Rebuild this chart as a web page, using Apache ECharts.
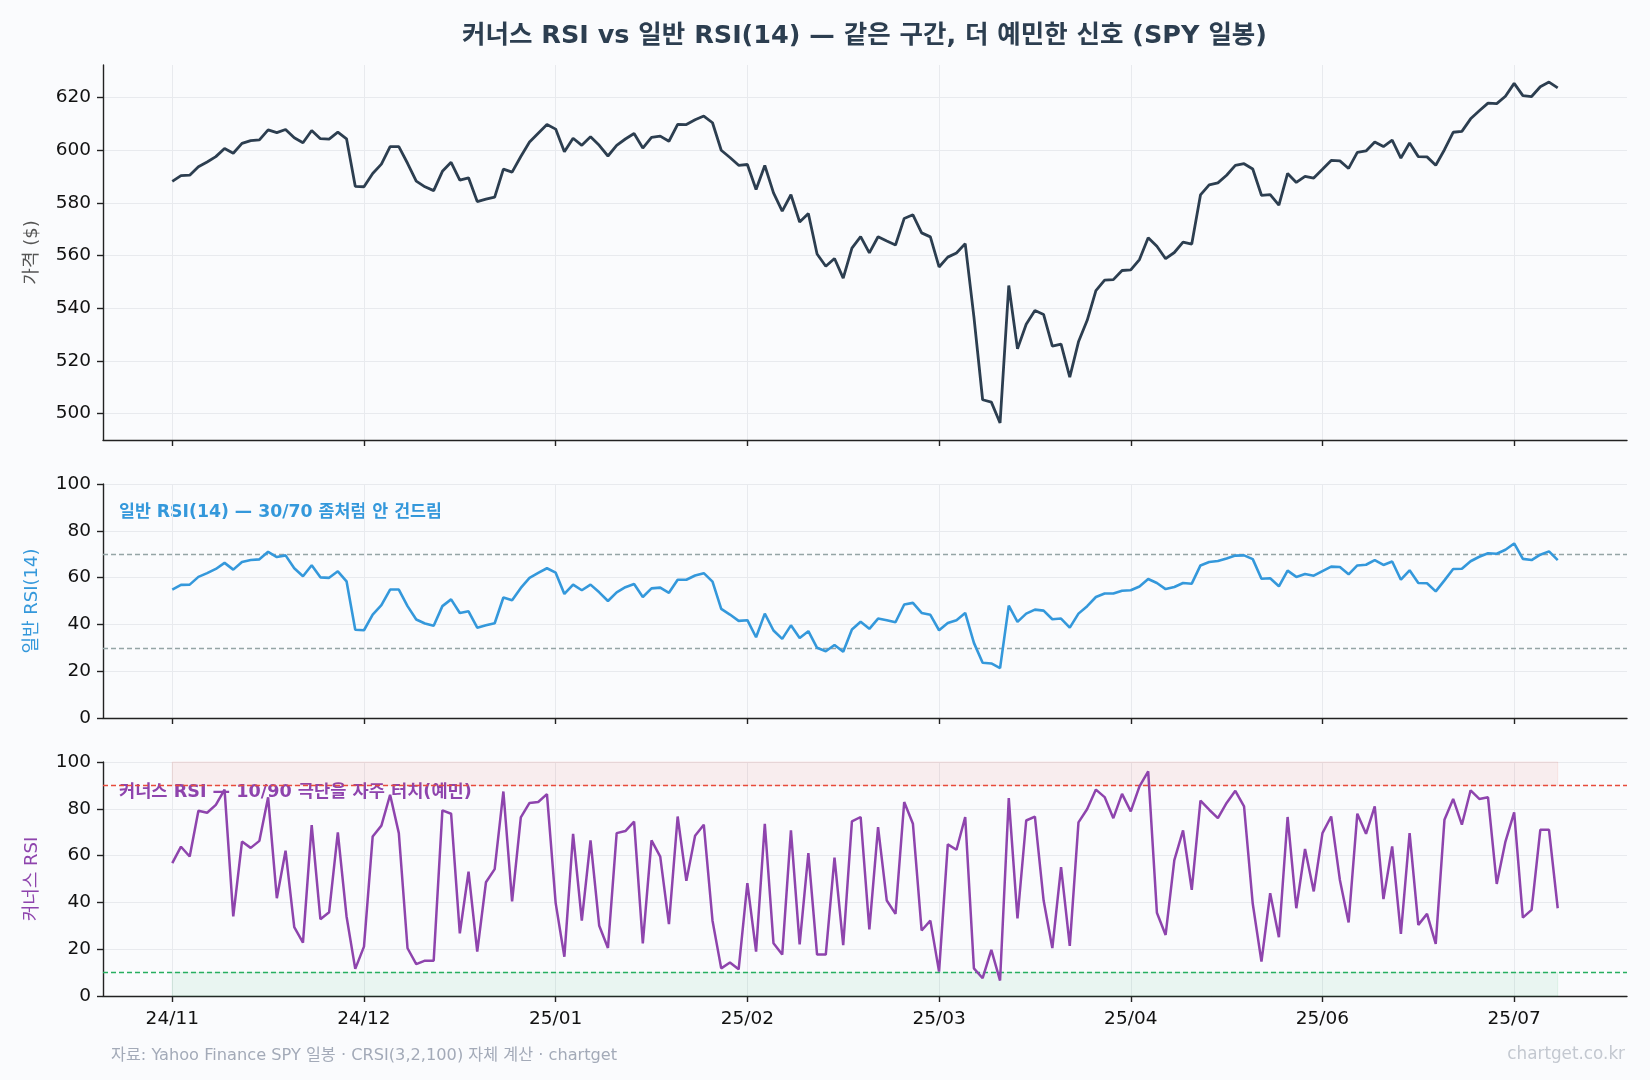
<!DOCTYPE html>
<html>
<head>
<meta charset="utf-8">
<script src="https://cdn.jsdelivr.net/npm/echarts@6.0.0/dist/echarts.min.js"></script>
<style>
  html, body { margin: 0; padding: 0; background: #fafbfd; }
  #chart { width: 1650px; height: 1080px; }
</style>
</head>
<body>
<div id="chart"></div>
<script>
// SPY 일봉 종가 (2024-11-18 ~ 2025-07-11, 160 거래일)
const price = [
  588.15, 590.30, 590.50, 593.67, 595.51, 597.53, 600.65, 598.83, 602.55,
  603.63, 603.91, 607.66, 606.66, 607.81, 604.68, 602.80, 607.46, 604.33, 604.21, 606.79,
  604.29, 586.28, 586.10, 591.15, 594.69, 601.30, 601.34, 595.01, 588.22, 586.08,
  584.64, 591.95, 595.36, 588.63, 589.49, 580.49, 581.39, 582.19, 592.78, 591.64,
  597.58, 603.05, 606.44, 609.75, 607.97, 599.37, 604.52, 601.81, 605.04, 601.82,
  597.77, 601.78, 604.22, 606.32, 600.77, 604.85, 605.31, 603.36, 609.73, 609.70,
  611.49, 612.93, 610.38, 599.94, 597.21, 594.24, 594.54, 585.05, 594.18,
  583.77, 576.86, 583.06, 572.71, 575.92, 560.58, 555.92, 558.87, 551.42, 562.81,
  567.15, 561.02, 567.13, 565.49, 563.98, 574.08, 575.46, 568.59, 567.08, 555.66, 559.39,
  560.97, 564.52, 536.70, 505.28, 504.38, 496.48, 548.62, 524.58, 533.94, 539.12,
  537.61, 525.66, 526.41, 513.88, 527.25, 535.42, 546.69, 550.64, 550.85, 554.32, 554.54,
  558.47, 566.76, 563.51, 558.80, 561.15, 565.06, 564.34, 582.99, 586.84, 587.59,
  590.46, 594.20, 594.85, 592.85, 582.86, 583.09, 579.11, 591.15, 587.73, 590.05, 589.39,
  592.71, 596.09, 595.93, 593.05, 599.14, 599.68, 603.08, 601.36, 603.75, 597.00,
  602.68, 597.53, 597.44, 594.28, 600.15, 606.78, 607.12, 611.87, 614.91, 617.85,
  617.65, 620.45, 625.34, 620.68, 620.34, 624.06, 625.82, 623.62
];

// 일반 RSI(14)
const rsi = [
  54.9, 56.9, 57.0, 60.3, 61.9, 63.7, 66.3, 63.4, 66.7, 67.5,
  67.8, 71.0, 68.8, 69.5, 64.0, 60.6, 65.3, 60.1, 59.9, 62.7,
  58.4, 37.7, 37.5, 44.2, 48.2, 54.9, 54.9, 47.8, 42.1, 40.4,
  39.4, 47.8, 50.7, 44.9, 45.6, 38.6, 39.6, 40.5, 51.5, 50.3,
  55.6, 59.9, 62.0, 64.0, 62.1, 53.0, 57.0, 54.6, 57.0, 53.7,
  50.0, 53.7, 55.9, 57.3, 51.7, 55.4, 55.7, 53.5, 59.1, 59.1,
  60.9, 61.9, 58.3, 46.6, 44.2, 41.5, 41.8, 34.5, 44.6, 37.4,
  33.8, 39.6, 34.2, 37.1, 30.0, 28.5, 31.2, 28.3, 37.8, 41.1,
  38.1, 42.5, 41.8, 40.9, 48.5, 49.2, 44.9, 44.1, 37.5, 40.6,
  41.8, 44.9, 32.1, 23.6, 23.3, 21.3, 48.0, 41.1, 44.6, 46.3,
  45.9, 42.2, 42.5, 38.6, 44.6, 47.8, 51.7, 53.2, 53.2, 54.4,
  54.6, 56.2, 59.4, 57.7, 55.1, 56.0, 57.7, 57.4, 65.2, 66.7,
  67.1, 68.2, 69.4, 69.5, 67.9, 59.5, 59.7, 56.3, 63.0, 60.3,
  61.5, 60.8, 62.8, 64.7, 64.5, 61.4, 65.2, 65.5, 67.5, 65.4,
  66.9, 59.1, 63.1, 57.7, 57.6, 54.1, 58.8, 63.7, 63.8, 67.0,
  68.9, 70.4, 70.2, 71.9, 74.6, 68.0, 67.5, 69.8, 71.2, 67.5
];

// 커너스 RSI (3,2,100)
const crsi = [
  56.8, 63.8, 59.6, 79.2, 78.3, 81.7, 88.2, 34.0, 66.0, 63.3,
  66.3, 84.9, 41.8, 62.1, 29.4, 22.8, 73.0, 32.8, 35.8, 69.9,
  34.0, 11.6, 21.1, 68.2, 72.8, 86.0, 69.6, 20.4, 13.6, 15.1,
  15.1, 79.3, 77.9, 26.8, 53.1, 19.0, 48.6, 54.2, 87.4, 40.4,
  76.3, 82.5, 82.9, 86.3, 39.7, 16.8, 69.3, 32.2, 66.5, 30.0,
  20.5, 69.6, 70.5, 74.5, 22.5, 66.5, 59.6, 30.7, 76.7, 49.2,
  68.5, 73.2, 32.2, 11.8, 14.3, 11.4, 48.2, 19.0, 73.6, 22.5,
  17.7, 70.8, 22.1, 61.1, 17.7, 17.7, 59.1, 21.7, 74.6, 76.5,
  28.5, 72.2, 40.8, 35.1, 82.9, 73.6, 28.0, 32.2, 10.4, 64.8,
  62.5, 76.5, 11.8, 7.6, 19.7, 6.6, 84.6, 33.2, 75.0, 76.7,
  40.8, 20.5, 55.1, 21.4, 74.2, 79.9, 88.2, 85.0, 76.0, 86.4,
  78.9, 89.6, 96.0, 35.6, 26.1, 58.1, 70.8, 45.4, 83.5, 79.6,
  76.0, 82.5, 87.7, 81.0, 39.4, 14.7, 43.9, 25.1, 76.5, 37.5,
  62.8, 44.7, 69.6, 76.7, 49.6, 31.4, 77.9, 69.3, 81.0, 41.4,
  63.9, 26.5, 69.6, 30.4, 35.1, 22.3, 75.3, 84.2, 73.2, 87.9,
  84.2, 84.9, 47.9, 66.0, 78.5, 33.5, 36.8, 71.0, 71.0, 37.5
];

// x축 눈금 (22 거래일 간격)
const tickIdx = [0, 22, 44, 66, 88, 110, 132, 154];
const tickLabels = ["24/11", "24/12", "25/01", "25/02", "25/03", "25/04", "25/06", "25/07"];
const priceTicks = [500, 520, 540, 560, 580, 600, 620];
const rsiTicks = [0, 20, 40, 60, 80, 100];

const FONT = "'DejaVu Sans', 'Noto Sans CJK KR', sans-serif";
const COLORS = {
  price: "#2c3e50",
  rsi: "#3498db",
  crsi: "#8e44ad",
  guide: "#95a5a6",
  hot: "#e74c3c",
  cold: "#27ae60",
  grid: "#e8eaee",
  axis: "#222222",
  tick: "#111111",
};

const toPairs = (arr) => arr.map((v, i) => [i, v]);
const n = price.length;

const chart = echarts.init(document.getElementById("chart"));

// 세 패널이 같은 x축 범위를 공유 (matplotlib 기본 5% 여백)
const makeX = (gridIndex, showLabel) => ({
  type: "value",
  gridIndex,
  min: -7.95,
  max: 166.95,
  axisLine: { show: true, onZero: false, lineStyle: { color: COLORS.axis, width: 1.4 } },
  axisTick: { show: true, customValues: tickIdx, length: 6, lineStyle: { color: COLORS.axis, width: 1.4 } },
  axisLabel: {
    show: showLabel,
    customValues: tickIdx,
    formatter: (v) => tickLabels[tickIdx.indexOf(v)] || "",
    fontSize: 18.5,
    color: COLORS.tick,
    fontFamily: FONT,
    margin: 14,
  },
  splitLine: { show: true, lineStyle: { color: COLORS.grid, width: 1 } },
});

const makeY = (gridIndex, min, max, ticks, name, nameColor) => ({
  type: "value",
  gridIndex,
  min,
  max,
  name,
  nameLocation: "middle",
  nameGap: 62,
  nameTextStyle: { color: nameColor, fontSize: 18, fontFamily: FONT },
  axisLine: { show: true, onZero: false, lineStyle: { color: COLORS.axis, width: 1.4 } },
  axisTick: { show: true, customValues: ticks, length: 6, lineStyle: { color: COLORS.axis, width: 1.4 } },
  axisLabel: { customValues: ticks, fontSize: 18.5, color: COLORS.tick, fontFamily: FONT, margin: 12 },
  splitLine: { show: true, lineStyle: { color: COLORS.grid, width: 1 } },
});

const option = {
  backgroundColor: "#fafbfd",
  animation: false,
  grid: [
    { left: 103, right: 23, top: 65, height: 375 },
    { left: 103, right: 23, top: 484, height: 234 },
    { left: 103, right: 23, top: 762, height: 234 },
  ],
  xAxis: [makeX(0, false), makeX(1, false), makeX(2, true)],
  yAxis: [
    makeY(0, 490.0, 632.3, priceTicks, "가격 ($)", "#555555"),
    makeY(1, 0, 100, rsiTicks, "일반 RSI(14)", COLORS.rsi),
    makeY(2, 0, 100, rsiTicks, "커너스 RSI", COLORS.crsi),
  ],
  series: [
    {
      name: "SPY",
      type: "line",
      xAxisIndex: 0,
      yAxisIndex: 0,
      data: toPairs(price),
      showSymbol: false,
      lineStyle: { color: COLORS.price, width: 2.8 },
      z: 5,
    },
    {
      name: "RSI(14)",
      type: "line",
      xAxisIndex: 1,
      yAxisIndex: 1,
      data: toPairs(rsi),
      showSymbol: false,
      lineStyle: { color: COLORS.rsi, width: 2.6 },
      z: 5,
      markLine: {
        silent: true,
        symbol: "none",
        label: { show: false },
        lineStyle: { color: COLORS.guide, type: [5, 3], width: 1.3 },
        data: [{ yAxis: 70 }, { yAxis: 30 }],
      },
    },
    {
      name: "CRSI",
      type: "line",
      xAxisIndex: 2,
      yAxisIndex: 2,
      data: toPairs(crsi),
      showSymbol: false,
      lineStyle: { color: COLORS.crsi, width: 2.5 },
      z: 5,
      markArea: {
        silent: true,
        data: [
          [
            { xAxis: 0, yAxis: 90, itemStyle: { color: "rgba(231,76,60,0.08)", borderColor: "rgba(231,76,60,0.10)", borderWidth: 1 } },
            { xAxis: n - 1, yAxis: 100 },
          ],
          [
            { xAxis: 0, yAxis: 0, itemStyle: { color: "rgba(39,174,96,0.08)", borderColor: "rgba(39,174,96,0.10)", borderWidth: 1 } },
            { xAxis: n - 1, yAxis: 10 },
          ],
        ],
      },
      markLine: {
        silent: true,
        symbol: "none",
        label: { show: false },
        data: [
          { yAxis: 90, lineStyle: { color: COLORS.hot, type: [5, 3], width: 1.4 } },
          { yAxis: 10, lineStyle: { color: COLORS.cold, type: [5, 3], width: 1.4 } },
        ],
      },
    },
  ],
  graphic: [
    {
      // 제목은 플롯 영역 기준 가운데 정렬
      type: "text",
      x: 864.5,
      y: 36,
      style: {
        text: "커너스 RSI vs 일반 RSI(14) — 같은 구간, 더 예민한 신호 (SPY 일봉)",
        fill: "#2c3e50",
        font: "bold 25.5px " + FONT,
        align: "center",
        verticalAlign: "middle",
      },
    },
    {
      type: "text",
      x: 119,
      y: 513,
      style: {
        text: "일반 RSI(14) — 30/70 좀처럼 안 건드림",
        fill: COLORS.rsi,
        font: "bold 17.3px " + FONT,
        verticalAlign: "middle",
      },
    },
    {
      type: "text",
      x: 119,
      y: 792,
      z: 1,
      style: {
        text: "커너스 RSI — 10/90 극단을 자주 터치(예민)",
        fill: COLORS.crsi,
        font: "bold 17.6px " + FONT,
        verticalAlign: "middle",
      },
    },
    {
      type: "text",
      x: 111,
      y: 1056,
      style: {
        text: "자료: Yahoo Finance SPY 일봉 · CRSI(3,2,100) 자체 계산 · chartget",
        fill: "#a3aab8",
        font: "16.2px " + FONT,
        verticalAlign: "middle",
      },
    },
    {
      type: "text",
      x: 1625,
      y: 1055,
      style: {
        text: "chartget.co.kr",
        fill: "#c3c8d0",
        font: "16.8px " + FONT,
        align: "right",
        verticalAlign: "middle",
      },
    },
  ],
};

chart.setOption(option);
</script>
</body>
</html>
